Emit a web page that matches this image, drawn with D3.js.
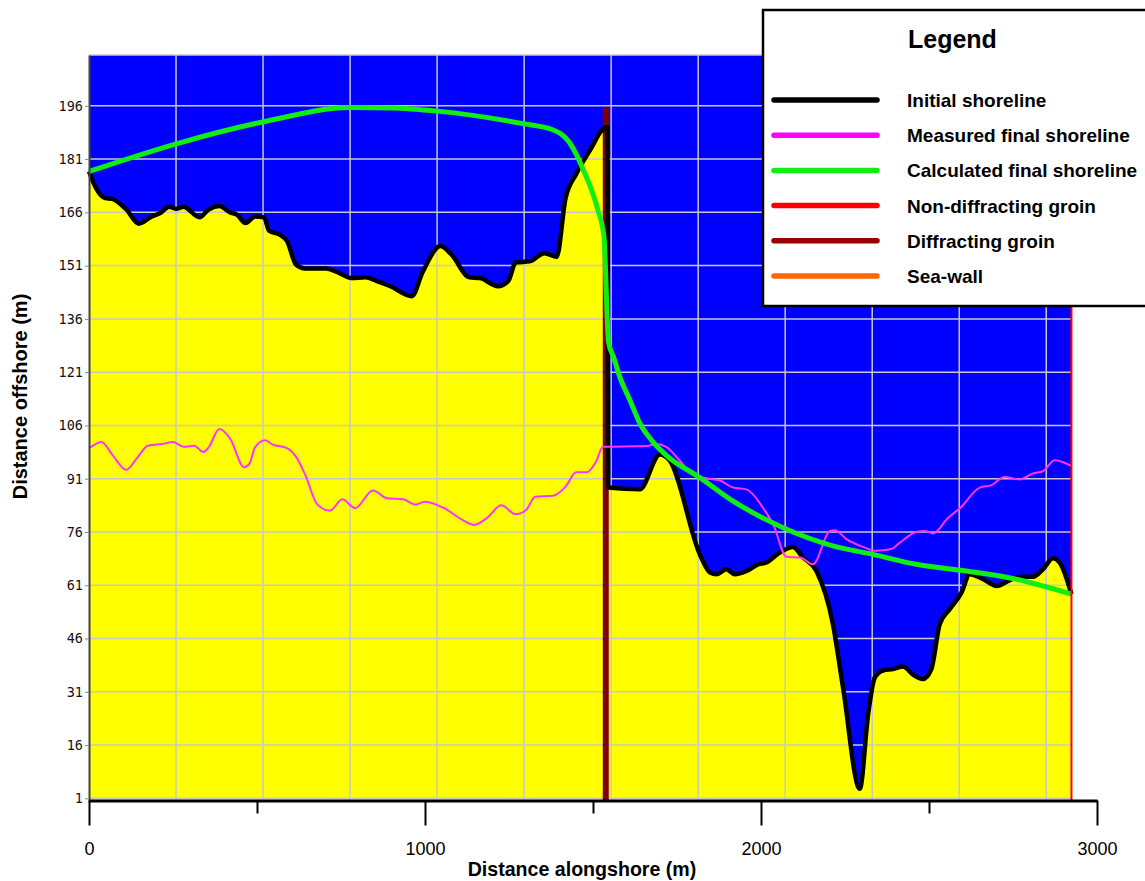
<!DOCTYPE html>
<html>
<head>
<meta charset="utf-8">
<script src="https://cdn.jsdelivr.net/npm/d3@7"></script>
<style>
  body { margin: 0; background: #fff; }
  svg { display: block; font-family: "Liberation Sans", Arial, sans-serif; }
</style>
</head>
<body>
<svg id="chart"></svg>
<script>
// Shoreline positions: [distance alongshore (m), distance offshore (m)]
const initialShoreline = [
  [0,177.5],[21,172.8],[48,170],[68,169.8],[111,166.8],[148,162.8],[186,164.8],[212,165.8],
  [239,167.6],[260,167],[281,167.6],[329,164.6],[356,166.8],[388,167.8],[420,166],[441,165.3],
  [465,163],[494,164.8],[521,164.6],[536,160.8],[568,159.7],[590,157.8],[616,151.3],[643,150.2],
  [706,150.2],[738,149.2],[781,147.5],[823,147.7],[855,146.7],[897,145.2],[961,142.4],[993,149.2],
  [1046,156.5],[1078,154.2],[1132,147.7],[1163,147.5],[1217,145.2],[1248,146.7],[1270,151.9],
  [1312,152.2],[1355,154.5],[1392,153.5],[1418,169.8],[1450,176.8],[1493,183.8],[1530,189.5],
  [1543,190],[1545,88.5],[1639,88],[1699,97.8],[1729,96],[1818,69.7],[1848,64.6],[1868,64.1],
  [1897,65.5],[1922,64.1],[1957,65],[1991,66.9],[2016,67.4],[2056,70.2],[2095,71.8],[2125,68.8],
  [2165,65],[2214,50.1],[2244,32.3],[2294,3.7],[2319,24.8],[2339,35.1],[2363,37],[2393,37.4],
  [2423,38.1],[2453,35.8],[2482,34.6],[2507,37.4],[2532,50.1],[2562,54.3],[2597,59],[2621,64.1],
  [2661,62.7],[2701,60.8],[2740,62.4],[2770,63.4],[2810,63.4],[2839,65.5],[2869,68.6],[2889,67.4],
  [2924,58.5]
];

const measuredShoreline = [
  [0,99.5],[37,101.3],[69,97.8],[111,93.5],[143,96.8],[175,100.3],[218,100.8],[250,101.3],
  [281,100],[313,100.3],[340,98.5],[356,99.8],[388,105],[420,102.3],[462,94.2],[478,95.3],
  [494,99.8],[524,101.8],[547,100.6],[589,99.6],[616,97.2],[643,92.2],[680,83.7],[717,82],
  [754,85.2],[792,82.7],[845,87.7],[887,85.5],[935,85.2],[972,83.7],[999,84.5],[1057,82.7],
  [1110,79.5],[1147,78],[1184,79.9],[1227,83.5],[1270,81],[1301,82.2],[1328,85.9],[1381,86.2],
  [1418,88.7],[1450,92.8],[1482,92.8],[1509,95.8],[1530,100],[1659,100.2],[1689,100.8],
  [1719,99.9],[1759,96],[1798,92.2],[1838,91.1],[1878,90.5],[1917,88.5],[1957,88],[2006,82.8],
  [2036,78.2],[2076,69],[2116,68.8],[2155,66.9],[2205,76.3],[2220,76.5],[2254,74],[2304,71.8],
  [2343,70.7],[2388,71.2],[2413,73],[2462,76],[2487,76.3],[2512,75.6],[2557,80],[2592,82.7],
  [2651,88.5],[2686,89.2],[2725,91.5],[2770,90.8],[2810,92.5],[2839,93.1],[2874,96.2],[2924,94.6]
];

const calculatedShoreline = [
  [0,177.5],[260,185.3],[520,191.5],[778,195.5],[900,195.4],[1037,194.5],[1296,190.9],
  [1376,189.4],[1429,185.8],[1472,177.8],[1514,166.8],[1533,158.8],[1538,148],[1542,137],
  [1546,129.5],[1561,125.3],[1580,119.6],[1610,113.1],[1640,106.5],[1679,101.3],[1719,97.5],
  [1818,91.3],[1917,84.7],[2066,77.2],[2214,72.1],[2333,69.7],[2462,66.9],[2611,65],
  [2760,62.7],[2924,58.5]
];

// Structures
const diffractingGroinX = 1538;
const diffractingGroinTop = 195.5;
const nonDiffractingGroinX = 2924;

// Axis ticks and grid
const yTicks = [1, 16, 31, 46, 61, 76, 91, 106, 121, 136, 151, 166, 181, 196];
const xTicks = [0, 1000, 2000, 3000];
const xMinorTicks = [500, 1500, 2500];
const gridX = [259, 518, 777, 1036, 1295, 1554, 1813, 2072, 2331, 2590, 2849];
const yMax = 210.3;

const legendLabels = ["Initial shoreline", "Measured final shoreline", "Calculated final shoreline",
  "Non-diffracting groin", "Diffracting groin", "Sea-wall"];
const legendColors = ["#000000", "#ff00ff", "#11ee11", "#ff0000", "#990000", "#ff6600"];

const width = 1145;
const height = 881;

const svg = d3.select("#chart")
  .attr("width", width)
  .attr("height", height);

const x = d3.scaleLinear().domain([0, 3000]).range([89, 1097]);
const y = d3.scaleLinear().domain([0, yMax]).range([801.9, 55]);

// water (blue) and land (yellow)
svg.append("rect")
  .attr("x", x(0))
  .attr("y", y(yMax))
  .attr("width", x(nonDiffractingGroinX) - x(0))
  .attr("height", y(0) - y(yMax))
  .attr("fill", "#0000ff");

const land = d3.area()
  .x(d => x(d[0]))
  .y0(y(0))
  .y1(d => y(d[1]))
  .curve(d3.curveMonotoneX);

svg.append("path")
  .datum(initialShoreline)
  .attr("d", land)
  .attr("fill", "#ffff00");

// grid
const grid = svg.append("g")
  .attr("stroke", "#c8c8c8")
  .attr("stroke-width", 1.5);

grid.selectAll(".hgrid")
  .data(yTicks.concat([yMax]))
  .enter().append("line")
  .attr("class", "hgrid")
  .attr("x1", x(0))
  .attr("x2", x(nonDiffractingGroinX))
  .attr("y1", d => y(d))
  .attr("y2", d => y(d));

grid.selectAll(".vgrid")
  .data(gridX)
  .enter().append("line")
  .attr("class", "vgrid")
  .attr("x1", d => x(d))
  .attr("x2", d => x(d))
  .attr("y1", y(0))
  .attr("y2", y(yMax));

// diffracting groin sits behind the shorelines
svg.append("line")
  .attr("x1", x(diffractingGroinX))
  .attr("x2", x(diffractingGroinX))
  .attr("y1", y(0))
  .attr("y2", y(diffractingGroinTop))
  .attr("stroke", "#800000")
  .attr("stroke-width", 6);

const line = d3.line()
  .x(d => x(d[0]))
  .y(d => y(d[1]))
  .curve(d3.curveMonotoneX);

svg.append("path")
  .datum(initialShoreline)
  .attr("d", line)
  .attr("fill", "none")
  .attr("stroke", "#000")
  .attr("stroke-width", 4.5)
  .attr("stroke-linejoin", "round");

svg.append("path")
  .datum(measuredShoreline)
  .attr("d", line)
  .attr("fill", "none")
  .attr("stroke", "#ff33ff")
  .attr("stroke-width", 2)
  .attr("stroke-linejoin", "round");

svg.append("path")
  .datum(calculatedShoreline)
  .attr("d", line)
  .attr("fill", "none")
  .attr("stroke", "#11ee11")
  .attr("stroke-width", 5)
  .attr("stroke-linejoin", "round");

// non-diffracting groin at the right end
svg.append("line")
  .attr("x1", x(nonDiffractingGroinX))
  .attr("x2", x(nonDiffractingGroinX))
  .attr("y1", y(0))
  .attr("y2", y(yMax))
  .attr("stroke", "#ff0000")
  .attr("stroke-width", 2);

// y axis
const yAxis = svg.append("g")
  .attr("transform", `translate(${x(0)},0)`)
  .call(d3.axisLeft(y).tickValues(yTicks).tickSize(4).tickSizeOuter(0).tickPadding(2));

yAxis.select(".domain").attr("stroke", "#444").attr("stroke-width", 2);
yAxis.selectAll(".tick line").attr("stroke", "#888");
yAxis.selectAll(".tick text")
  .attr("font-family", "DejaVu Sans Mono, monospace")
  .attr("font-size", 13.5)
  .attr("fill", "#111");

// x axis
const xAxis = svg.append("g")
  .attr("transform", "translate(0,800.5)")
  .call(d3.axisBottom(x).tickValues(xTicks).tickFormat(d3.format("d"))
    .tickSize(25).tickSizeOuter(0).tickPadding(17));

xAxis.select(".domain").attr("stroke", "#000").attr("stroke-width", 3);
xAxis.selectAll(".tick line").attr("stroke", "#000").attr("stroke-width", 2);
xAxis.selectAll(".tick text")
  .attr("font-family", "Liberation Sans, Arial, sans-serif")
  .attr("font-size", 18)
  .attr("fill", "#000");

const xMinor = svg.append("g")
  .attr("transform", "translate(0,800.5)")
  .call(d3.axisBottom(x).tickValues(xMinorTicks).tickSize(13).tickFormat(""));
xMinor.select(".domain").remove();
xMinor.selectAll(".tick line").attr("stroke", "#000").attr("stroke-width", 2);

// axis titles
svg.append("text")
  .attr("x", 582)
  .attr("y", 876)
  .attr("text-anchor", "middle")
  .attr("font-size", 19.6)
  .attr("font-weight", "bold")
  .text("Distance alongshore (m)");

svg.append("text")
  .attr("transform", "translate(27,396.5) rotate(-90)")
  .attr("text-anchor", "middle")
  .attr("font-size", 20)
  .attr("font-weight", "bold")
  .text("Distance offshore (m)");

// legend
const legend = svg.append("g");

legend.append("rect")
  .attr("x", 763)
  .attr("y", 10)
  .attr("width", 400)
  .attr("height", 296)
  .attr("fill", "#fff")
  .attr("stroke", "#000")
  .attr("stroke-width", 2.5);

legend.append("text")
  .attr("x", 908)
  .attr("y", 48)
  .attr("font-size", 25)
  .attr("font-weight", "bold")
  .text("Legend");

const legendRowY = d3.scalePoint().domain(legendLabels).range([100, 276]);

const rows = legend.selectAll(".legend-row")
  .data(legendLabels)
  .enter().append("g")
  .attr("class", "legend-row")
  .attr("transform", d => `translate(0,${legendRowY(d)})`);

rows.append("line")
  .attr("x1", 774)
  .attr("x2", 877)
  .attr("stroke", (d, i) => legendColors[i])
  .attr("stroke-width", 5.5)
  .attr("stroke-linecap", "round");

rows.append("text")
  .attr("x", 907)
  .attr("y", 7)
  .attr("font-size", 19)
  .attr("font-weight", "bold")
  .text(d => d);
</script>
</body>
</html>
